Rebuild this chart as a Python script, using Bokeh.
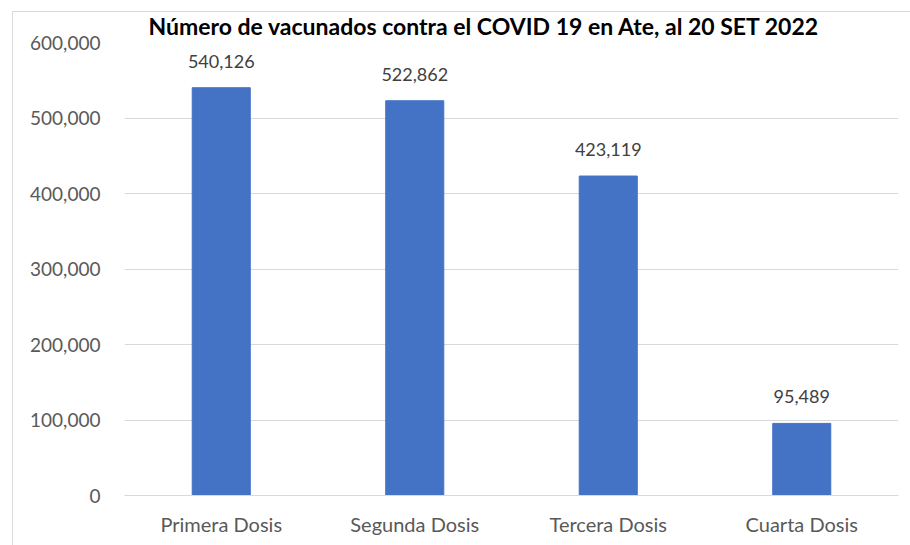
from bokeh.plotting import figure
from bokeh.models import ColumnDataSource, LabelSet, Range1d, FactorRange, NumeralTickFormatter, FixedTicker
from bokeh.core.properties import value
from bokeh.embed import file_html
from bokeh.resources import INLINE

categories = ["Primera Dosis", "Segunda Dosis", "Tercera Dosis", "Cuarta Dosis"]
values = [540126, 522862, 423119, 95489]
value_labels = ["540,126", "522,862", "423,119", "95,489"]
y_ticks = [0, 100000, 200000, 300000, 400000, 500000, 600000]
title_text = "Número de vacunados contra el COVID 19 en Ate, al 20 SET 2022"

FONT = "Lato"
TXT = "#595959"

src = ColumnDataSource(dict(x=categories, top=values, lab=value_labels))

border_css = ("linear-gradient(#d9d9d9,#d9d9d9) 12px 11px / 1px 100% no-repeat, "
              "linear-gradient(#d9d9d9,#d9d9d9) 12px 11px / 100% 1px no-repeat, #ffffff")

p = figure(width=910, height=545, x_range=FactorRange(*categories, range_padding=0),
           y_range=Range1d(0, 600000), output_backend="svg", toolbar_location=None,
           min_border_left=124, min_border_right=12, min_border_top=42, min_border_bottom=50,
           title=title_text, styles={"background": border_css})
p.border_fill_color = None
p.background_fill_color = None
p.vbar(x="x", top="top", width=0.3, source=src, color="#4472C4")

p.add_layout(LabelSet(x="x", y="top", text="lab", source=src, text_align="center",
                      text_baseline="alphabetic", y_offset=20, text_font=value(FONT),
                      text_font_size=value("18px"), text_color=value("#404040")))

p.title.align = "left"
p.title.offset = 24
p.title.standoff = 2
p.title.vertical_align = "top"
p.title.text_font = FONT
p.title.text_font_style = "bold"
p.title.text_font_size = "23px"
p.title.text_color = "#000000"

p.outline_line_color = None
p.xgrid.grid_line_color = None
p.ygrid.grid_line_color = "#d9d9d9"
p.ygrid.ticker = FixedTicker(ticks=y_ticks)
p.yaxis.ticker = FixedTicker(ticks=y_ticks)
p.yaxis.formatter = NumeralTickFormatter(format="0,0")
for ax in (p.xaxis, p.yaxis):
    ax.major_tick_line_color = None
    ax.minor_tick_line_color = None
    ax.major_label_text_font = FONT
    ax.major_label_text_color = TXT
p.yaxis.major_label_text_font_size = "19px"
p.xaxis.major_label_text_font_size = "20px"
p.yaxis.axis_line_color = None
p.xaxis.axis_line_color = "#d9d9d9"
p.yaxis.major_label_standoff = 18
p.xaxis.major_label_standoff = 10

open("out.html", "w").write(file_html(p, INLINE))
